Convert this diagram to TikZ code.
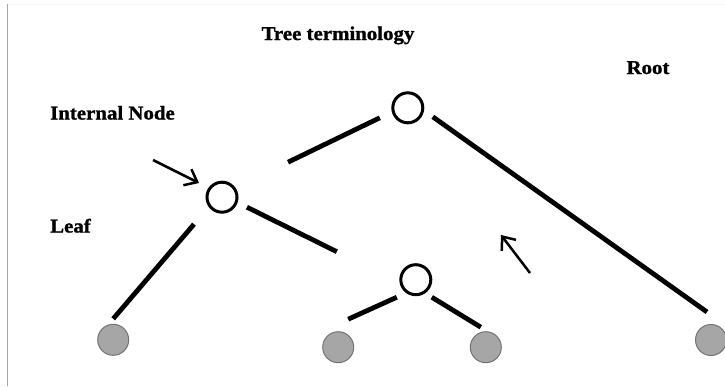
\documentclass[tikz,border=0pt]{standalone}
\usepackage{fontspec}
\setmainfont{Liberation Serif}[FakeStretch=1.07,BoldFeatures={FakeBold=1.2}]
\usetikzlibrary{arrows.meta}
\begin{document}
\begin{tikzpicture}[x=1pt,y=-1pt,
  inode/.style={circle,draw=black,line width=3pt,fill=white,minimum size=30pt,inner sep=0pt,outer sep=0pt},
  leafnode/.style={circle,draw=black!55,line width=1pt,fill=black!35,minimum size=31pt,inner sep=0pt,outer sep=0pt},
  edge/.style={line width=4.8pt,black},
  pointer/.style={line width=2.5pt,-{Straight Barb[length=11pt,width=18pt]}},
  lbl/.style={font=\fontsize{19.5}{23}\selectfont\bfseries,inner sep=0pt}]
\useasboundingbox (0,0) rectangle (725,386);
\begin{scope}
\clip (0,0) rectangle (725,386);
\draw[black!35,line width=1pt] (7.5,4) -- (7.5,386);
\draw[black!3,line width=1pt] (8,4) -- (725,4);

\node[inode] (R) at (407.8,107.8) {};
\node[inode] (I) at (222,197.2) {};
\node[inode] (S) at (415.8,279.7) {};
\node[leafnode] (L1) at (113.2,339.8) {};
\node[leafnode] (L2) at (338.2,347.2) {};
\node[leafnode] (L3) at (485.8,347.2) {};
\node[leafnode] (L4) at (711,340) {};

\draw[edge] ([shift={(-28,10)}]R.center) -- ([shift={(66,-35)}]I.center);
\draw[edge] ([shift={(25,9)}]R.center) -- ([shift={(-4,-28)}]L4.center);
\draw[edge] ([shift={(-28,27)}]I.center) -- ([shift={(0,-21)}]L1.center);
\draw[edge] ([shift={(25,10)}]I.center) -- ([shift={(-79,-28)}]S.center);
\draw[edge] ([shift={(-19,17.5)}]S.center) -- ([shift={(10,-28)}]L2.center);
\draw[edge] ([shift={(16,17.5)}]S.center) -- ([shift={(-5,-20)}]L3.center);

\coordinate (a1s) at (153,160);
\coordinate (a1e) at (199,183);
\coordinate (a2s) at (530,273);
\coordinate (a2e) at (501,235);
\draw[pointer] (a1s) -- (a1e);
\draw[pointer] (a2s) -- (a2e);

\node[lbl,anchor=base] (title) at (338,40) {Tree terminology};
\node[lbl,anchor=base] (root) at (648,74) {Root};
\node[lbl,anchor=base west] (internal) at (50,119.5) {Internal Node};
\node[lbl,anchor=base west] (leaf) at (50,232.5) {Leaf};
\end{scope}
\end{tikzpicture}
\end{document}
